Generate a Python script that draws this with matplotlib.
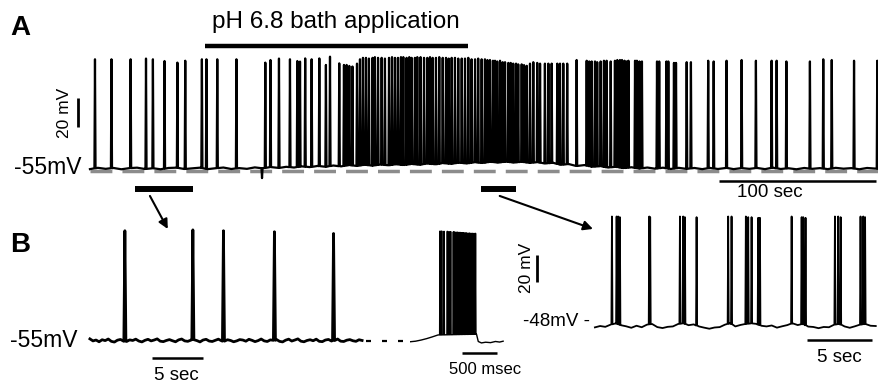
import numpy as np
import matplotlib.pyplot as plt
from matplotlib.patches import ConnectionPatch

plt.rcParams['font.family'] = ['Liberation Sans', 'DejaVu Sans']

#%% Data

# Panel A: long recording (sec, mV)
a_spike_t = [3.2, 13.7, 25.9, 35.7, 40.1, 47.5, 55.7, 60.7, 71.3, 74.2,
             81.1, 93.3, 111.7, 115.0, 120.4, 127.4, 132.1, 133.8, 137.1, 141.2,
             146.1, 150.3, 152.9, 158.8, 161.8, 163.5, 165.2, 167.2, 170.1, 172.0,
             173.9, 175.8, 177.7, 180.0, 181.5, 183.5, 185.8, 187.9, 190.5, 192.4,
             194.3, 196.2, 198.1, 199.6, 201.7, 203.4, 204.9, 207.0, 208.5, 210.6,
             212.8, 214.9, 216.6, 218.3, 220.4, 222.5, 224.7, 226.8, 228.5, 230.4,
             232.5, 234.6, 236.8, 238.9, 241.0, 243.1, 245.3, 247.3, 249.5, 251.6,
             253.2, 254.8, 256.7, 258.0, 259.4, 261.2, 262.9, 264.4, 266.5, 268.0,
             269.6, 271.4, 272.8, 275.0, 276.5, 278.2, 280.3, 282.4, 284.9, 286.7,
             289.8, 292.0, 294.1, 297.7, 299.4, 301.5, 304.0, 310.0, 316.4, 318.0,
             319.6, 321.7, 323.1, 325.3, 327.4, 329.1, 331.7, 334.4, 335.9, 337.6,
             338.9, 340.5, 341.8, 343.0, 347.2, 348.4, 350.0, 351.6, 361.2, 362.6,
             367.2, 368.4, 372.0, 373.3, 380.1, 382.8, 393.8, 397.3, 405.5, 415.1,
             424.2, 434.2, 437.4, 443.6, 458.6, 467.1, 472.5, 486.7, 501.5]
a_spike_peak = [20, 20, 20, 20.5, 20, 18.8, 17.7, 19, 20, 20,
                20, 20, 17.7, 19.5, 20.5, 20, 18.8, 18.4, 20.6, 20,
                20.6, 16.1, 21.8, 17.2, 16.1, 16.1, 15.4, 15, 17, 20,
                21, 21, 20.5, 21, 21.5, 21, 21, 20.5, 21, 21.5,
                21, 21, 21.5, 21.5, 21, 21.5, 21, 21, 21.5, 21.5,
                21, 21, 21.5, 21, 21, 21.5, 21, 21, 20.5, 21,
                21, 20.5, 20.5, 20.5, 21, 20, 20, 20.5, 20, 20,
                19.5, 19.5, 19, 19, 18.5, 19, 18, 18, 17.5, 17.5,
                17, 17, 16.5, 16.5, 16, 15.5, 17, 18, 17.5, 17,
                17, 17, 17, 17, 17, 17, 17, 19.5, 19, 18.5,
                18.5, 18.5, 18, 18.5, 19, 19, 18.5, 19, 19.5, 19.5,
                19.5, 19, 18.5, 19, 19, 19, 18.5, 18.5, 18.5, 18.5,
                18.5, 18.5, 17.5, 17.5, 18, 18, 19, 18.5, 19, 19.5,
                19, 19, 19, 18.5, 18.5, 20, 19.5, 19, 19]
a_dip_t = [109.6]
a_dip_v = [-62]
a_base_step = 5
a_base_v = [-55.8, -54.9, -55.6, -55.0, -55.9, -55.1, -54.8, -55.7, -55.2, -55.9,
            -55.0, -54.8, -55.7, -55.3, -54.8, -55.8, -55.2, -54.7, -55.7, -55.1,
            -55.6, -54.6, -55.2, -54.4, -55.0, -54.2, -54.7, -53.9, -54.4, -53.6,
            -54.2, -53.3, -53.9, -53.0, -53.6, -52.8, -53.4, -52.6, -53.2, -52.4,
            -53.0, -52.2, -52.8, -51.9, -52.5, -51.6, -52.2, -51.3, -51.9, -51.0,
            -51.6, -50.7, -51.3, -50.6, -51.3, -50.7, -51.5, -51.0, -51.9, -51.4,
            -52.8, -52.3, -53.6, -53.0, -54.2, -53.7, -54.7, -54.2, -55.1, -54.5,
            -55.4, -54.7, -55.5, -54.8, -55.7, -54.9, -55.6, -55.0, -55.8, -55.0,
            -55.7, -54.9, -55.8, -55.1, -55.6, -55.0, -55.8, -54.8, -55.7, -55.2,
            -55.9, -55.0, -55.6, -55.1, -55.8, -54.9, -55.5, -55.1, -55.9, -55.0,
            -55.4]

# Panel B left: before acid (sec, mV)
bl_spike_t = [3.43, 10.1, 13.1, 18.1, 23.9]
bl_spike_peak = [20.4, 21, 20.4, 19.7, 18.5]
bl_base_step = 0.3
bl_base_v = [-54.2, -55.6, -55.0, -56.2, -54.8, -55.4, -54.3, -55.9, -56.4, -55.1,
             -54.6, -55.8, -56.0, -54.9, -55.3, -54.4, -55.7, -56.3, -55.2, -54.5,
             -55.6, -55.0, -54.2, -55.8, -56.1, -55.3, -54.7, -55.5, -56.2, -54.9,
             -54.3, -55.6, -55.9, -55.1, -54.6, -55.4, -56.3, -55.0, -54.5, -55.7,
             -56.0, -55.2, -54.4, -55.5, -55.9, -54.8, -55.3, -56.2, -55.6, -54.7,
             -55.0, -55.8, -54.5, -55.2, -56.1, -55.4, -54.3, -55.6, -56.0, -54.9,
             -55.5, -54.6, -55.9, -56.3, -55.1, -54.4, -55.7, -55.0, -54.2, -55.8,
             -56.2, -55.3, -54.8, -55.5, -54.4, -55.9, -56.1, -55.0, -54.6, -55.7,
             -55.2, -54.3, -55.8, -56.0, -55.1, -54.7, -55.5, -55.9, -54.8, -55.3]

# Panel B inset: single burst (sec, mV)
bi_spike_t = [0.429, 0.453, 0.486, 0.533, 0.557, 0.581, 0.619, 0.633, 0.657, 0.679,
              0.700, 0.721, 0.743, 0.764, 0.786, 0.807, 0.829, 0.850, 0.871, 0.893,
              0.914, 0.936]
bi_spike_peak = [20.2, 20.2, 20, 20, 19.8, 19.8, 19.6, 19.6, 19.5, 19.4,
                 19.3, 19.2, 19.1, 19, 19, 18.9, 18.8, 18.8, 18.7, 18.6,
                 18.6, 18.6]
bi_base_t = [0, 0.08, 0.16, 0.24, 0.32, 0.4, 0.95, 0.975, 1.02, 1.08, 1.15, 1.22, 1.28, 1.33]
bi_base_v = [-56.2, -55.8, -55, -54, -52.8, -51.5, -51, -56, -57, -56.5, -56.8, -56, -56.4, -55.8]

# Panel B right: during acid (sec, mV)
br_spike_t = [1.31, 1.67, 1.79, 1.92, 4.18, 4.25, 6.54, 6.79, 6.92, 7.82,
              10.25, 10.51, 11.61, 11.79, 12.05, 12.56, 12.69, 15.13, 15.90, 16.02,
              16.20, 18.46, 18.71, 18.90, 20.43, 20.64, 20.78]
br_spike_peak = [33, 33, 33, 32.5, 33, 32.5, 33, 33, 32.5, 32.5,
                 33, 33, 33, 32.5, 32.5, 32, 32, 33, 32.5, 32.5,
                 32, 33, 33, 32.5, 33, 33, 32.5]
br_base_step = 0.4
br_base_v = [-49, -48, -48.6, -47, -46, -47.4, -48.2, -49.3, -47.8, -48.9,
             -47, -46.5, -48.8, -49.5, -48.6, -48.3, -46.5, -46, -47.4, -46.8,
             -48.3, -49.2, -50, -49.1, -48.8, -47, -46, -48.3, -47.2, -46.5,
             -46, -46.4, -47.8, -48.3, -47.6, -49.2, -48.2, -47.3, -46, -47.3,
             -46.5, -48.4, -48.7, -49.6, -48.7, -48.9, -47, -46.5, -48.3, -49.3,
             -48.2, -47, -46.5, -47.8, -48]


def build_trace(base_t, base_v, spk_t, spk_peak, hw):
    base_t = np.asarray(base_t, float)
    base_v = np.asarray(base_v, float)
    spk_t = np.asarray(spk_t, float)
    spk_peak = np.asarray(spk_peak, float)
    keep = np.array([np.min(np.abs(spk_t - t)) > 1.5 * hw for t in base_t])
    foot = np.interp(spk_t, base_t, base_v)
    t = np.concatenate([base_t[keep], spk_t - hw, spk_t, spk_t + hw])
    v = np.concatenate([base_v[keep], foot, spk_peak, foot])
    order = np.argsort(t, kind='stable')
    return t[order], v[order]


fig = plt.figure(figsize=(8.79, 3.87), dpi=100)
H = 387.0
W = 879.0

#%% Panel A
axA = fig.add_axes([0, 1 - 200 / H, 1, 200 / H])
axA.set_xlim(-57.3, 502.6)
axA.set_ylim(-77.1, 60.9)
axA.axis('off')

axA.plot([0, 502], [-57, -57], color='#8c8c8c', lw=2.5,
         linestyle=(0, (6.3, 2.9)), zorder=1)
a_t = np.arange(len(a_base_v)) * a_base_step
tA, vA = build_trace(a_t, a_base_v, a_spike_t + a_dip_t, a_spike_peak + a_dip_v, 0.35)
axA.plot(tA, vA, color='black', lw=1.6, zorder=2)

axA.text(-51, 41.6, 'A', fontsize=20, fontweight='bold', ha='left', va='center')
axA.text(156.7, 45.7, 'pH 6.8 bath application', fontsize=17.5, ha='center', va='center')
axA.plot([73.3, 240.8], [29.2, 29.2], color='black', lw=3.2, solid_capstyle='butt')
axA.text(-5.5, -55, '-55mV', fontsize=16.5, ha='right', va='center')
axA.plot([-7.6, -7.6], [-26.7, -6.7], color='black', lw=2, solid_capstyle='butt')
axA.text(-15.9, -16.7, '20 mV', fontsize=12.5, rotation=90, ha='center', va='center')
axA.plot([401, 501], [-64, -64], color='black', lw=1.8, solid_capstyle='butt')
axA.text(433, -72, '100 sec', fontsize=13.5, ha='center', va='center')
axA.plot([28.7, 65.6], [-69.5, -69.5], color='black', lw=4.3, solid_capstyle='butt')
axA.plot([249.3, 271.6], [-69.5, -69.5], color='black', lw=4.3, solid_capstyle='butt')

#%% Panel B left
axBL = fig.add_axes([0, 0, 410 / W, 187 / H])
axBL.set_xlim(-8.82, 31.4)
axBL.set_ylim(-87.4, 41.6)
axBL.axis('off')
bl_t = np.arange(len(bl_base_v)) * bl_base_step
tBL, vBL = build_trace(bl_t, bl_base_v, bl_spike_t, bl_spike_peak, 0.1)
axBL.plot(tBL, vBL, color='black', lw=2.0)
axBL.plot([27.1, 30.8], [-55.7, -55.7], color='black', lw=1.6,
          linestyle=(0, (2.25, 4.95)))
axBL.text(-7.84, 10.6, 'B', fontsize=20, fontweight='bold', ha='left', va='center')
axBL.text(-1.2, -55, '-55mV', fontsize=16.5, ha='right', va='center')
axBL.plot([6.08, 11.08], [-67.4, -67.4], color='black', lw=1.8, solid_capstyle='butt')
axBL.text(8.5, -79.2, '5 sec', fontsize=13.5, ha='center', va='center')

#%% Panel B inset (burst)
axBI = fig.add_axes([410 / W, 0, 110 / W, 187 / H])
axBI.set_xlim(0, 1.571)
axBI.set_ylim(-87.4, 41.6)
axBI.axis('off')
tBI, vBI = build_trace(bi_base_t, bi_base_v, bi_spike_t, bi_spike_peak, 0.006)
axBI.plot(tBI, vBI, color='black', lw=1.0)
axBI.plot([0.743, 1.243], [-64, -64], color='black', lw=1.8, solid_capstyle='butt')
axBI.text(1.07, -75.5, '500 msec', fontsize=12, ha='center', va='center')

#%% Panel B right
axBR = fig.add_axes([500 / W, 0, 379 / W, 187 / H])
axBR.set_xlim(-7.3, 21.85)
axBR.set_ylim(-93.1, 45.2)
axBR.axis('off')
br_t = np.arange(len(br_base_v)) * br_base_step
tBR, vBR = build_trace(br_t, br_base_v, br_spike_t, br_spike_peak, 0.04)
axBR.plot(tBR, vBR, color='black', lw=1.3)
axBR.text(-0.35, -45, '-48mV -', fontsize=13.5, ha='right', va='center')
axBR.plot([-4.46, -4.46], [-15.4, 4.6], color='black', lw=2, solid_capstyle='butt')
axBR.text(-5.3, -5.1, '20 mV', fontsize=12.5, rotation=90, ha='center', va='center')
axBR.plot([16.3, 21.3], [-58.4, -58.4], color='black', lw=1.8, solid_capstyle='butt')
axBR.text(18.8, -71, '5 sec', fontsize=13.5, ha='center', va='center')

#%% Arrows from the bars in A to the expanded traces in B
arr1 = ConnectionPatch(xyA=(38.2, -74.3), coordsA=axA.transData,
                       xyB=(7.64, 21.6), coordsB=axBL.transData,
                       arrowstyle='-|>', mutation_scale=14, lw=1.5, color='black')
arr2 = ConnectionPatch(xyA=(261, -74.3), coordsA=axA.transData,
                       xyB=(-0.15, 23.8), coordsB=axBR.transData,
                       arrowstyle='-|>', mutation_scale=14, lw=1.5, color='black')
fig.add_artist(arr1)
fig.add_artist(arr2)

fig.savefig('out.png', dpi=100)
